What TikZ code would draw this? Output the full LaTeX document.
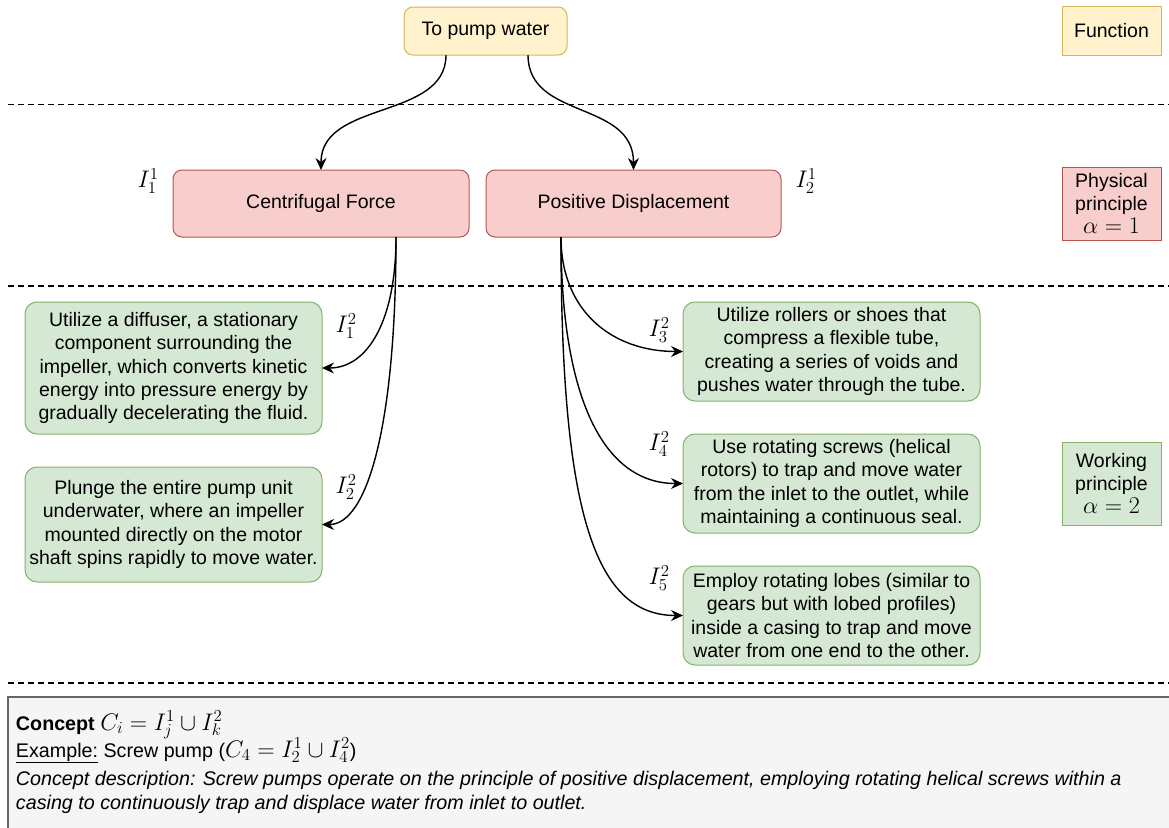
\RequirePackage{fix-cm}
\documentclass[tikz,border=0pt]{standalone}
\usepackage{fontspec}
\setmainfont{Liberation Sans}
\usetikzlibrary{arrows.meta,calc}
\definecolor{yfill}{HTML}{FFF2CC}
\definecolor{ydraw}{HTML}{D6B656}
\definecolor{rfill}{HTML}{F8CECC}
\definecolor{rdraw}{HTML}{B85450}
\definecolor{gfill}{HTML}{D5E8D4}
\definecolor{gdraw}{HTML}{82B366}
\definecolor{cfill}{HTML}{F5F5F5}
\definecolor{cdraw}{HTML}{666666}
\newcommand\fsmain{\fontsize{19.5}{23.3}\selectfont}
\newcommand\fsconcept{\fontsize{19.7}{22}\selectfont}
\newcommand\mth[1]{{\fontsize{24}{26}\selectfont$#1$}}
\begin{document}
\begin{tikzpicture}[x=1pt,y=-1pt,
  every node/.style={inner sep=0pt, outer sep=0pt},
  funcbox/.style={draw=ydraw, fill=yfill, line width=1pt, rounded corners=9pt, font=\fsmain, align=center},
  physbox/.style={draw=rdraw, fill=rfill, line width=1pt, rounded corners=9pt, font=\fsmain, align=center},
  workbox/.style={draw=gdraw, fill=gfill, line width=1pt, rounded corners=12pt, font=\fsmain, align=center},
  legy/.style={draw=ydraw, fill=yfill, line width=1pt, font=\fsmain, align=center},
  legr/.style={draw=rdraw, fill=rfill, line width=1pt, font=\fsmain, align=center},
  legg/.style={draw=gdraw, fill=gfill, line width=1pt, font=\fsmain, align=center},
  lbl/.style={font=\fsmain},
  sep/.style={line width=1.3pt, dash pattern=on 6pt off 4pt},
  conn/.style={line width=1.4pt, -{Stealth[length=12pt,width=11pt,inset=4pt]}},
  ctext/.style={font=\fsconcept, anchor=base west}
]
\clip (0,0) rectangle (1169,827);

% separators
\draw[sep] (8,104.5) -- (1169,104.5);
\draw[sep] (8,286) -- (1169,286);
\draw[sep] (8,683) -- (1169,683);

% function level
\node[funcbox, minimum width=163pt, minimum height=48pt] (pump) at (485.5,31) {To pump water};
\node[legy, minimum width=99pt, minimum height=49pt] (legf) at (1111.5,30.5) {Function};

% physical principle level
\node[physbox, minimum width=296pt, minimum height=67pt] (cf) at (321,203.5) {Centrifugal Force};
\node[physbox, minimum width=295pt, minimum height=67pt] (pd) at (633.5,203.5) {Positive Displacement};
\node[legr, minimum width=99pt, minimum height=73pt] (legp) at (1111.5,203.5) {Physical\\principle\\\mth{\alpha=1}};
\node[lbl] (i11) at (148,181) {\mth{I_1^1}};
\node[lbl] (i21) at (806,181) {\mth{I_2^1}};

% working principle level
\node[workbox, minimum width=297pt, minimum height=132pt] (g1) at (173.5,368) {Utilize a diffuser, a stationary\\component surrounding the\\impeller, which converts kinetic\\energy into pressure energy by\\gradually decelerating the fluid.};
\node[workbox, minimum width=297pt, minimum height=115pt] (g2) at (173.5,524.5) {Plunge the entire pump unit\\underwater, where an impeller\\mounted directly on the motor\\shaft spins rapidly to move water.};
\node[workbox, minimum width=297pt, minimum height=99pt] (g3) at (831.5,351.5) {Utilize rollers or shoes that\\compress a flexible tube,\\creating a series of voids and\\pushes water through the tube.};
\node[workbox, minimum width=297pt, minimum height=99pt] (g4) at (831.5,483.5) {Use rotating screws (helical\\rotors) to trap and move water\\from the inlet to the outlet, while\\maintaining a continuous seal.};
\node[workbox, minimum width=297pt, minimum height=99pt] (g5) at (831.5,615.5) {Employ rotating lobes (similar to\\gears but with lobed profiles)\\inside a casing to trap and move\\water from one end to the other.};
\node[legg, minimum width=99pt, minimum height=83pt] (legw) at (1111.5,483.5) {Working\\principle\\\mth{\alpha=2}};
\node[lbl] (i12) at (346,326) {\mth{I_1^2}};
\node[lbl] (i22) at (346,487) {\mth{I_2^2}};
\node[lbl] (i32) at (659,330) {\mth{I_3^2}};
\node[lbl] (i42) at (659,444) {\mth{I_4^2}};
\node[lbl] (i52) at (659,578) {\mth{I_5^2}};

% connectors
\draw[conn] ($(pump.south)+(-39.5,0)$) .. controls +(0,65) and +(0,-70) .. (cf.north);
\draw[conn] ($(pump.south)+(42.5,0)$) .. controls +(0,65) and +(0,-70) .. (pd.north);
\draw[conn] ($(cf.south)+(75,0)$) .. controls +(0,85) and +(45,0) .. (g1.east);
\draw[conn] ($(cf.south)+(75,0)$) .. controls +(0,190) and +(45,0) .. (g2.east);
\draw[conn] ($(pd.south)+(-72.5,0)$) .. controls +(0,75) and +(-70,0) .. (g3.west);
\draw[conn] ($(pd.south)+(-72.5,0)$) .. controls +(0,160) and +(-80,0) .. (g4.west);
\draw[conn] ($(pd.south)+(-72.5,0)$) .. controls +(0,270) and +(-90,0) .. (g5.west);

% concept box
\node[draw=cdraw, fill=cfill, line width=1.3pt, anchor=north west, minimum width=1180pt, minimum height=150pt] (cbox) at (8,697) {};
\node[ctext] (c1) at (16,730) {\textbf{Concept} \mth{C_i = I_j^1 \cup I_k^2}};
\node[ctext] (c2) at (16,757) {\underline{Example:} Screw pump (\mth{C_4 = I_2^1 \cup I_4^2})};
\node[ctext] (c3) at (16,785) {\itshape Concept description: Screw pumps operate on the principle of positive displacement, employing rotating helical screws within a};
\node[ctext] (c4) at (16,809) {\itshape casing to continuously trap and displace water from inlet to outlet.};
\end{tikzpicture}
\end{document}
